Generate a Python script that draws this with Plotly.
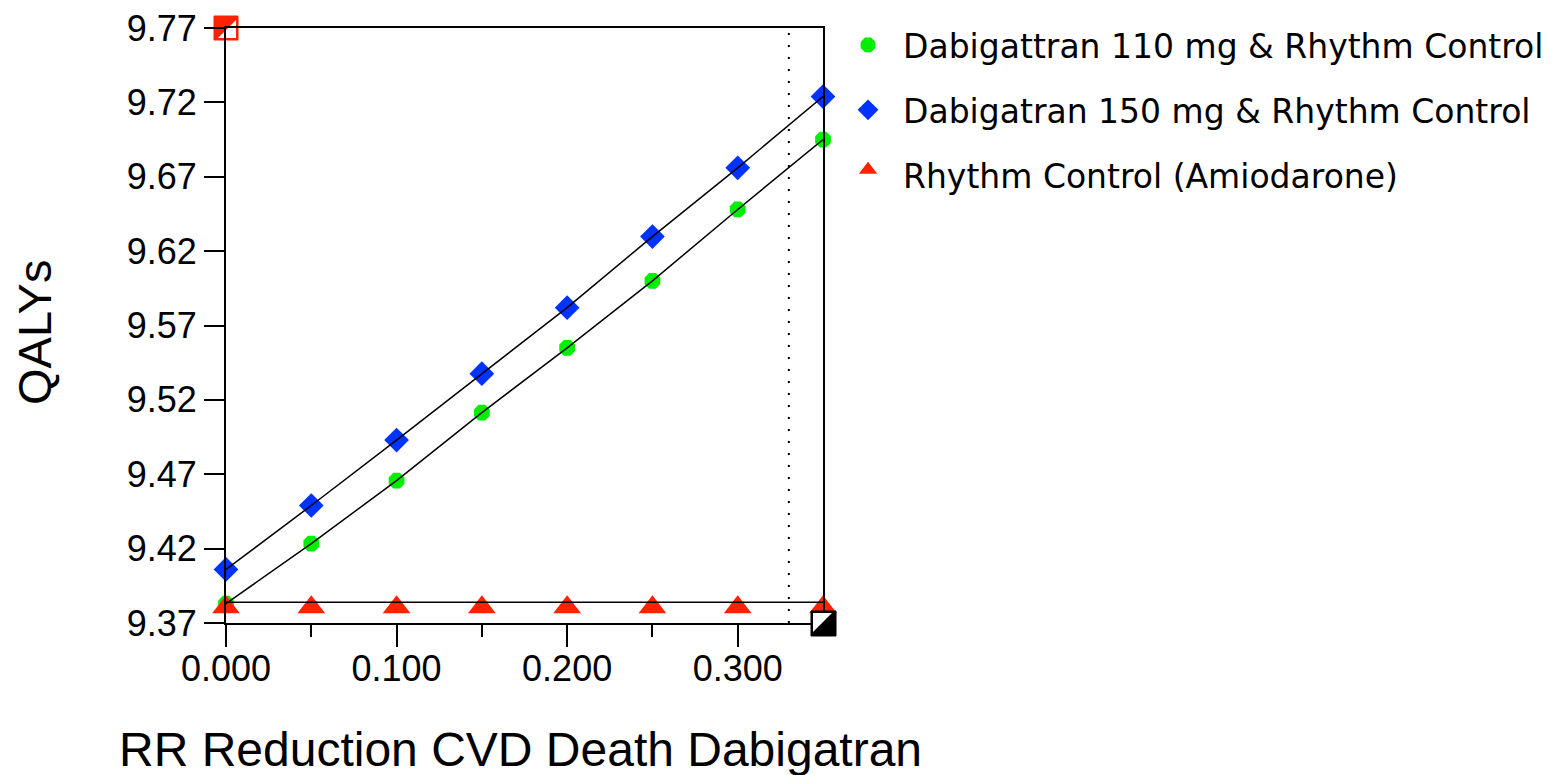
import plotly.graph_objects as go

# ---- data ----
rr_reduction = [0.0, 0.05, 0.10, 0.15, 0.20, 0.25, 0.30, 0.35]
qaly_dabi110 = [9.383, 9.4234, 9.4657, 9.5114, 9.555, 9.600, 9.648, 9.695]
qaly_dabi150 = [9.406, 9.449, 9.493, 9.5376, 9.582, 9.6298, 9.676, 9.7239]
qaly_rhythm = [9.384, 9.384, 9.384, 9.384, 9.384, 9.384, 9.384, 9.384]
series_names = ["Dabigattran 110 mg & Rhythm Control",
                "Dabigatran 150 mg & Rhythm Control",
                "Rhythm Control (Amiodarone)"]
threshold_x = 0.33
x_range = [0.0, 0.35]
y_range = [9.37, 9.77]
x_tickvals = [0.0, 0.1, 0.2, 0.3]
x_ticktext = ["0.000", "0.100", "0.200", "0.300"]
x_minor_tickvals = [0.05, 0.15, 0.25]
y_tickvals = [9.37, 9.42, 9.47, 9.52, 9.57, 9.62, 9.67, 9.72, 9.77]
y_ticktext = ["9.37", "9.42", "9.47", "9.52", "9.57", "9.62", "9.67", "9.72", "9.77"]
x_title = "RR Reduction CVD Death Dabigatran"
y_title = "QALYs"

FONT = "Liberation Sans, Arial, sans-serif"
LEGEND_FONT = "DejaVu Sans, Liberation Sans, sans-serif"

fig = go.Figure()

# threshold dotted line
fig.add_trace(go.Scatter(x=[threshold_x, threshold_x], y=y_range, mode="lines",
                         line=dict(color="black", width=2, dash="2px,10px"),
                         showlegend=False, hoverinfo="skip"))

# markers
fig.add_trace(go.Scatter(x=rr_reduction, y=qaly_dabi110, mode="markers", name=series_names[0],
                         legendgroup="a",
                         marker=dict(symbol="octagon", color="#00ee00", size=17, line=dict(width=0)),
                         cliponaxis=False))
fig.add_trace(go.Scatter(x=rr_reduction, y=qaly_dabi150, mode="markers", name=series_names[1],
                         legendgroup="b",
                         marker=dict(symbol="diamond", color="#0033ff", size=19, line=dict(width=0)),
                         cliponaxis=False))
fig.add_trace(go.Scatter(x=rr_reduction, y=qaly_rhythm, mode="markers", name=series_names[2],
                         legendgroup="c",
                         marker=dict(symbol="triangle-up", color="#ff2200", size=24, standoff=5,
                                     line=dict(width=0)),
                         cliponaxis=False))

# connecting lines drawn over markers
for ys in (qaly_dabi110, qaly_dabi150, qaly_rhythm):
    fig.add_trace(go.Scatter(x=rr_reduction, y=ys, mode="lines",
                             line=dict(color="black", width=1.5),
                             showlegend=False, hoverinfo="skip", cliponaxis=False))

# corner markers (axis range indicators)
corner_shapes = [
    dict(type="path", xref="x domain", yref="y domain", xsizemode="pixel", ysizemode="pixel",
         xanchor=0, yanchor=1, path="M-12,-12 L12,-12 L12,12 L-12,12 Z",
         fillcolor="#ff2200", line=dict(color="#ff2200", width=1), layer="below"),
    dict(type="path", xref="x domain", yref="y domain", xsizemode="pixel", ysizemode="pixel",
         xanchor=0, yanchor=1, path="M-8,-10 L10,-10 L10,8 Z",
         fillcolor="white", line=dict(width=0), layer="below"),
    dict(type="path", xref="x domain", yref="y domain", xsizemode="pixel", ysizemode="pixel",
         xanchor=1, yanchor=0, path="M-12,-13 L13,-13 L13,12 L-12,12 Z",
         fillcolor="black", line=dict(color="black", width=1), layer="above"),
    dict(type="path", xref="x domain", yref="y domain", xsizemode="pixel", ysizemode="pixel",
         xanchor=1, yanchor=0, path="M-10,10 L9,10 L-10,-9 Z",
         fillcolor="white", line=dict(width=0), layer="above"),
]

annotations = [
    dict(text=x_title, xref="paper", yref="paper", x=0.494, y=-0.2118,
         xanchor="center", yanchor="middle", showarrow=False,
         font=dict(family=FONT, size=48, color="black")),
    dict(text=y_title, xref="paper", yref="paper", x=-0.3199, y=0.4874, textangle=-90,
         xanchor="center", yanchor="middle", showarrow=False,
         font=dict(family=FONT, size=47, color="black")),
]

fig.update_layout(
    width=1549, height=767,
    margin=dict(l=218, r=734, t=20, b=152, autoexpand=False),
    paper_bgcolor="white", plot_bgcolor="white",
    font=dict(family=FONT, color="black"),
    shapes=corner_shapes,
    annotations=annotations,
    legend=dict(x=1.0168, y=1.0185, xanchor="left", yanchor="top",
                font=dict(family=LEGEND_FONT, size=33, color="black"),
                itemwidth=60,
                tracegroupgap=19, bgcolor="rgba(0,0,0,0)"),
    xaxis=dict(range=x_range, tickmode="array", tickvals=x_tickvals, ticktext=x_ticktext,
               showgrid=False, zeroline=False, showline=True, mirror=True,
               linecolor="black", linewidth=2,
               ticks="outside", ticklen=22, tickwidth=2, tickcolor="black",
               ticklabelstandoff=-9, ticklabeloverflow="allow",
               tickfont=dict(family=FONT, size=36, color="black"),
               minor=dict(tickmode="array", tickvals=x_minor_tickvals, ticks="outside",
                          ticklen=12, tickwidth=2, tickcolor="black", showgrid=False)),
    yaxis=dict(range=y_range, tickmode="array", tickvals=y_tickvals, ticktext=y_ticktext,
               showgrid=False, zeroline=False, showline=True, mirror=True,
               linecolor="black", linewidth=2,
               ticks="outside", ticklen=20, tickwidth=2, tickcolor="black",
               ticklabeloverflow="allow",
               tickfont=dict(family=FONT, size=36, color="black")),
)

fig.write_html("out.html")
